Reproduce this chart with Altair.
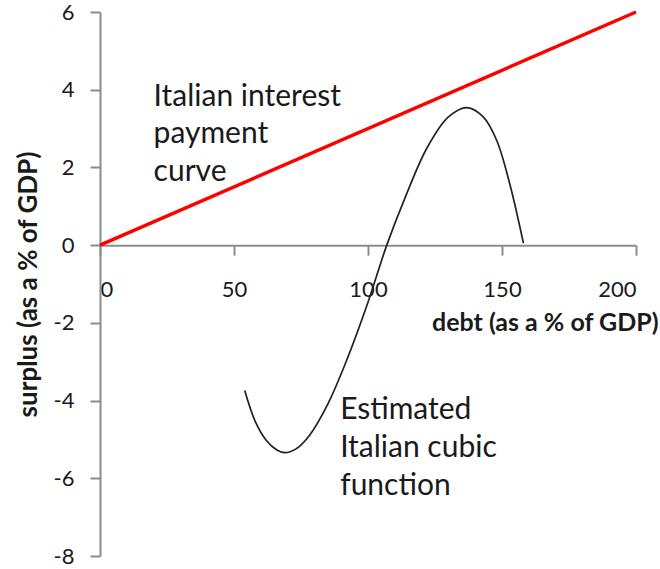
import altair as alt
import pandas as pd

# Interest payment line (debt vs. required surplus)
line_debt = [0, 200]
line_surplus = [0, 6]

# Estimated cubic surplus function
cubic_debt = [54, 58, 62, 66, 69, 73, 78, 85, 92, 100, 107, 114, 122, 130, 137, 143, 148, 153, 158]
cubic_surplus = [-3.74, -4.55, -5.02, -5.27, -5.34, -5.25, -4.91, -4.09, -2.97, -1.47, 0.0,
                 1.25, 2.5, 3.3, 3.54, 3.3, 2.7, 1.55, 0.05]

# Annotation lines
label_text = ["Italian interest", "payment", "curve",
              "Estimated", "Italian cubic", "function"]
label_debt = [20, 20, 20, 89.6, 89.6, 89.6]
label_surplus = [3.58, 2.63, 1.65, -4.48, -5.46, -6.44]

x_ticks = [0, 50, 100, 150, 200]
y_ticks = [-8, -6, -4, -2, 0, 2, 4, 6]

W, H = 536, 544
Y_MIN, Y_MAX = -8, 6
x_axis_offset = -H * (0 - Y_MIN) / (Y_MAX - Y_MIN)

FONT = "Lato"
TEXT = "#1a1a1a"
AXIS = "#8c8c8c"

x_scale = alt.Scale(domain=[0, 200], nice=False, zero=False)
y_scale = alt.Scale(domain=[Y_MIN, Y_MAX], nice=False, zero=False)

line_df = pd.DataFrame({"debt": line_debt, "surplus": line_surplus})
cubic_df = pd.DataFrame({"debt": cubic_debt, "surplus": cubic_surplus})
label_df = pd.DataFrame({"text": label_text, "debt": label_debt, "surplus": label_surplus})

# plain hyphen for negative numbers
plain_label = "'' + datum.value"

x_axis = alt.Axis(
    values=x_ticks, grid=False, offset=x_axis_offset, labelExpr=plain_label,
    domainColor=AXIS, domainWidth=2, tickColor=AXIS, tickWidth=2, tickSize=10,
    labelFont=FONT, labelFontSize=22, labelColor=TEXT, labelPadding=24,
    title="debt (as a % of GDP)", titleFont=FONT, titleFontSize=25,
    titleFontWeight="bold", titleColor=TEXT,
    titleAnchor="end", titleAlign="right", titleBaseline="alphabetic",
    titleX=558, titleY=85,
)
y_axis = alt.Axis(
    values=y_ticks, grid=False, labelExpr=plain_label,
    domainColor=AXIS, domainWidth=2, tickColor=AXIS, tickWidth=2, tickSize=10,
    labelFont=FONT, labelFontSize=22, labelColor=TEXT, labelPadding=16,
    title="surplus (as a % of GDP)", titleFont=FONT, titleFontSize=26,
    titleFontWeight="bold", titleColor=TEXT,
    titleAngle=270, titleAlign="center", titleBaseline="middle",
    titleX=-72, titleY=H / 2,
)

red_line = alt.Chart(line_df).mark_line(color="#ff0000", strokeWidth=3.5).encode(
    x=alt.X("debt:Q", scale=x_scale, axis=x_axis),
    y=alt.Y("surplus:Q", scale=y_scale, axis=y_axis),
)

cubic = alt.Chart(cubic_df).mark_line(
    color="#222222", strokeWidth=1.7, interpolate="catmull-rom"
).encode(
    x=alt.X("debt:Q", scale=x_scale),
    y=alt.Y("surplus:Q", scale=y_scale),
)

labels = alt.Chart(label_df).mark_text(
    font=FONT, fontSize=30, color=TEXT, align="left", baseline="alphabetic"
).encode(
    x=alt.X("debt:Q", scale=x_scale),
    y=alt.Y("surplus:Q", scale=y_scale),
    text="text:N",
)

chart = (
    alt.layer(red_line, cubic, labels)
    .properties(
        width=W, height=H,
        autosize=alt.AutoSizeParams(type="none"),
        padding={"left": 100, "top": 12, "right": 24, "bottom": 13},
        background="white",
    )
    .configure_view(stroke=None)
)

chart.save("out.html", embed_options={"renderer": "svg", "actions": False})
